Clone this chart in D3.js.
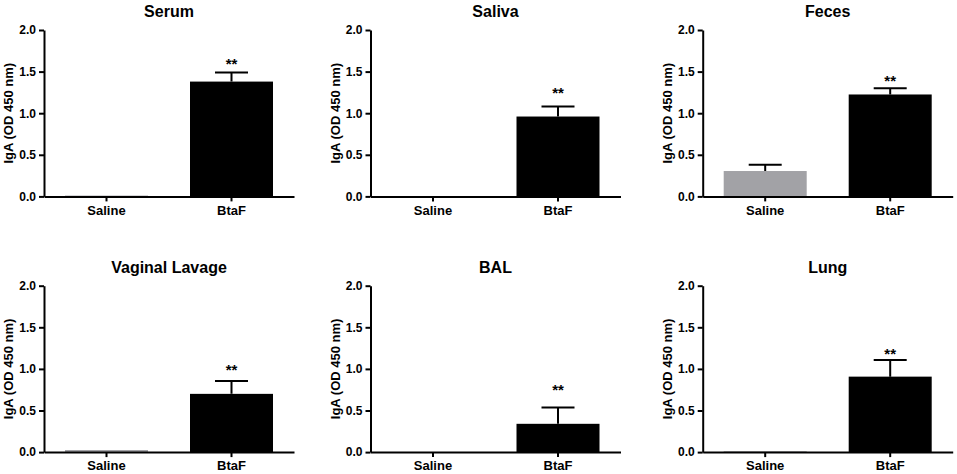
<!DOCTYPE html>
<html>
<head>
<meta charset="utf-8">
<script src="https://cdn.jsdelivr.net/npm/d3@7"></script>
<style>
  body { margin: 0; background: #fff; }
  svg { display: block; }
  text { font-family: "Liberation Sans", Arial, sans-serif; font-weight: bold; }
</style>
</head>
<body>
<div id="chart"></div>
<script>
// panel data
let panels = ["Serum", "Saliva", "Feces", "Vaginal Lavage", "BAL", "Lung"]
let groups = ["Saline", "BtaF"]
let salineMean = [0.01, 0, 0.305, 0.025, 0, 0.01]
let salineErr = [0.01, 0, 0.38, 0.025, 0, 0.01]
let btafMean = [1.38, 0.96, 1.225, 0.70, 0.34, 0.907]
let btafErr = [1.49, 1.08, 1.30, 0.856, 0.535, 1.108]
let sigLevel = [1.64, 1.29, 1.44, 1.04, 0.79, 1.23]
let yTicks = [0, 0.5, 1.0, 1.5, 2.0]
let barColors = ["#a2a2a6", "#000000"]

let width = 957
let height = 474

let colX = [44, 370.5, 702.7]
let rowTop = [30, 285.7]
let plotH = 166.4
let plotW = 250

let svg = d3.select("#chart")
  .append("svg")
  .attr("width", width)
  .attr("height", height)

panels.forEach(function (name, i) {
  let x0 = colX[i % 3]
  let top = rowTop[Math.floor(i / 3)]
  let bottom = top + plotH

  let x = d3.scaleBand()
    .domain(groups)
    .range([x0, x0 + plotW])
    .paddingInner(0.336)
    .paddingOuter(0.168)

  let y = d3.scaleLinear()
    .domain([0, 2])
    .range([bottom, top])

  let rows = [
    { group: "Saline", mean: salineMean[i], err: salineErr[i], color: barColors[0] },
    { group: "BtaF", mean: btafMean[i], err: btafErr[i], color: barColors[1] }
  ]

  let g = svg.append("g")

  g.append("g")
    .selectAll("rect")
    .data(rows)
    .enter().append("rect")
      .attr("x", d => x(d.group))
      .attr("y", d => y(d.mean))
      .attr("width", x.bandwidth())
      .attr("height", d => y(0) - y(d.mean))
      .attr("fill", d => d.color)

  // upper whiskers only
  let errs = rows.filter(d => d.err > d.mean)
  let cx = d => x(d.group) + x.bandwidth() / 2

  g.append("g")
    .attr("stroke", "#000")
    .attr("stroke-width", 2)
    .selectAll("path")
    .data(errs)
    .enter().append("path")
      .attr("fill", "none")
      .attr("d", d => `M${cx(d)},${y(d.mean)}V${y(d.err)}M${cx(d) - 16.5},${y(d.err)}H${cx(d) + 16.5}`)

  g.append("text")
    .attr("x", cx(rows[1]))
    .attr("y", y(sigLevel[i]))
    .attr("dy", "0.6em")
    .attr("text-anchor", "middle")
    .style("font-size", "15px")
    .text("**")

  let yAxis = d3.axisLeft(y)
    .tickValues(yTicks)
    .tickFormat(d3.format(".1f"))
    .tickSize(5)
    .tickSizeOuter(0)
    .tickPadding(3)

  let xAxis = d3.axisBottom(x)
    .tickSize(5)
    .tickSizeOuter(0)
    .tickPadding(4)

  let ya = g.append("g")
    .attr("transform", `translate(${x0},0)`)
    .call(yAxis)
  ya.selectAll("text").style("font-size", "12px").attr("fill", "#000")

  let xa = g.append("g")
    .attr("transform", `translate(0,${bottom})`)
    .call(xAxis)
  xa.selectAll("text").style("font-size", "13px").attr("fill", "#000")

  g.selectAll(".domain, .tick line")
    .attr("stroke", "#000")
    .attr("stroke-width", 2)

  g.append("text")
    .attr("transform", `translate(${x0 - 31},${(top + bottom) / 2}) rotate(-90)`)
    .attr("text-anchor", "middle")
    .style("font-size", "13px")
    .text("IgA (OD 450 nm)")

  g.append("text")
    .attr("x", x0 + plotW / 2)
    .attr("y", top - 13)
    .attr("text-anchor", "middle")
    .style("font-size", "16px")
    .text(name)
})
</script>
</body>
</html>
